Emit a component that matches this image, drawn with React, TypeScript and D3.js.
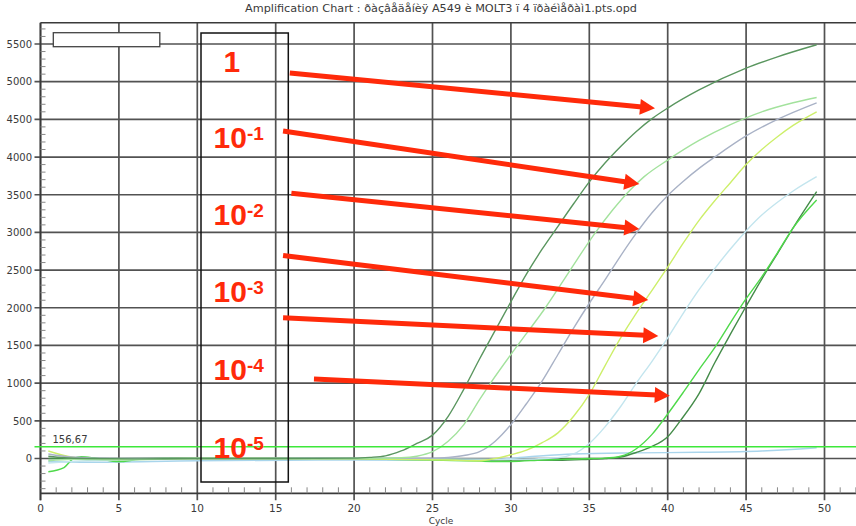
import React from 'react';
import * as d3 from 'd3';

// ---- data -------------------------------------------------------------
const titleText = 'Amplification Chart : ðàçâåäåíèÿ A549 è MOLT3 ï 4 ïðàéìåðàì1.pts.opd';
const xAxisTitle = 'Cycle';
const xTickValues = [0, 5, 10, 15, 20, 25, 30, 35, 40, 45, 50];
const yTickValues = [0, 500, 1000, 1500, 2000, 2500, 3000, 3500, 4000, 4500, 5000, 5500];
const thresholdValue = 156.67;
const thresholdLabel = '156,67';

// amplification traces, [cycle, RFU]
const traceUndiluted: [number, number][] = [
  [0.5, 30], [1.5, 10], [3, 0], [6, -5], [10, 0], [15, 0], [20, 5], [21, 15], [22, 35], [23, 100],
  [24, 200], [25, 310], [26, 560], [27, 920], [28, 1320], [29, 1700], [30, 2080], [31, 2450],
  [32, 2780], [33, 3080], [34, 3380], [35, 3670], [36, 3920], [37, 4140], [38, 4340], [39, 4510],
  [40, 4650], [42, 4890], [45, 5180], [47, 5330], [49.5, 5490],
];
const traceLightGreen: [number, number][] = [
  [0.5, -30], [2, -10], [5, -20], [10, 0], [15, -5], [20, 0], [23, 10], [24, 30], [25, 90], [26, 230],
  [27, 450], [28, 780], [28.7, 1000], [30, 1380], [31, 1660], [32.2, 2000], [33, 2250], [34, 2570],
  [35.4, 3000], [36.5, 3300], [37.5, 3540], [38.5, 3740], [40, 3960], [42, 4220], [44, 4430],
  [46, 4600], [48, 4720], [49.5, 4790],
];
const traceSlate: [number, number][] = [
  [0.5, 60], [2, 20], [5, 0], [10, 0], [20, 0], [25, 5], [26, 15], [27, 40], [28, 90], [29, 230],
  [30, 450], [31, 730], [32, 1030], [33, 1380], [34, 1730], [35, 2060], [36, 2370], [37, 2690],
  [38, 2990], [39, 3260], [40, 3490], [41, 3680], [42, 3850], [43, 4000], [45, 4280], [47, 4500],
  [49.5, 4720],
];
const traceLime: [number, number][] = [
  [0.5, 100], [1.5, 40], [2.5, 5], [5, -10], [10, 0], [20, -5], [26, -20], [28, -30], [29, 0],
  [30, 50], [31, 110], [32, 210], [33, 340], [34, 560], [35, 850], [36, 1230], [37, 1600], [38, 1930],
  [39, 2230], [40, 2540], [41, 2860], [42, 3160], [43, 3420], [44, 3660], [45, 3900], [46, 4100],
  [47, 4270], [48, 4420], [49.5, 4600],
];
const traceCyan: [number, number][] = [
  [0.5, -60], [2, -40], [5, -20], [10, 0], [20, 0], [30, -10], [33, 10], [34, 60], [35, 200],
  [36, 420], [37, 690], [38, 1000], [39, 1290], [40, 1600], [41, 1930], [42, 2240], [43, 2520],
  [44, 2780], [45, 3020], [46, 3230], [47, 3400], [48, 3550], [49.5, 3740],
];
const traceGreen: [number, number][] = [
  [0.5, -175], [1.5, -120], [2.1, 0], [2.6, 25], [3.5, 5], [5, -42], [6.3, -11], [8, 0], [15, 0],
  [20, -5], [25, -20], [28, -35], [30, -40], [32, -20], [35, 0], [36, 5], [37, 30], [38, 130],
  [39, 320], [40, 590], [41, 880], [42, 1180], [43, 1470], [44, 1800], [45, 2120], [46, 2410],
  [47, 2730], [48, 3060], [49.5, 3430],
];
const traceDarkGreen: [number, number][] = [
  [0.5, 0], [5, 0], [10, 5], [20, 0], [25, -10], [30, -20], [33, -25], [35, -10], [36, 0], [37, 20],
  [38, 80], [39, 160], [40, 290], [40.8, 500], [42, 860], [43, 1270], [44, 1650], [45, 2020],
  [46, 2380], [47, 2720], [48, 3060], [49.5, 3540],
];
const traceNegative: [number, number][] = [
  [0.5, -40], [3, -50], [10, -30], [20, -20], [28, -25], [31, 20], [34, 60], [38, 75], [42, 82],
  [46, 100], [48.4, 126], [49.5, 143],
];

// dilution labels: base and exponent
const dilutionBases = ['1', '10', '10', '10', '10', '10'];
const dilutionExponents = ['', '-1', '-2', '-3', '-4', '-5'];
// arrows from each label towards its curve, [cycle, RFU] start and tip
const arrowStarts: [number, number][] = [
  [15.9, 5115], [15.47, 4346], [16.0, 3519], [15.47, 2694], [15.47, 1868], [17.44, 1055],
];
const arrowTips: [number, number][] = [
  [39.19, 4647], [38.19, 3643], [38.19, 3045], [38.76, 2103], [39.4, 1626], [40.13, 833],
];

// ---- layout -----------------------------------------------------------
const W = 856;
const H = 526;
const plotLeft = 40.5;
const plotRight = 856;
const plotTop = 22.7;
const plotBottom = 493.3;
const labelBaselines = [72, 148, 225, 302, 380, 458];

const series = [
  { pts: traceNegative, color: '#a9d5ec' },
  { pts: traceDarkGreen, color: '#458c4a' },
  { pts: traceGreen, color: '#4fd94a' },
  { pts: traceCyan, color: '#c3e5ee' },
  { pts: traceLime, color: '#cdef6a' },
  { pts: traceSlate, color: '#a9b2c6' },
  { pts: traceLightGreen, color: '#a3e29d' },
  { pts: traceUndiluted, color: '#5a965f' },
];

const RED = '#ff2a0a';
const GRID = '#525252';
const AXIS = '#3a3a3a';
const TEXT = '#3a3a3a';

export default function App() {
  const x = d3.scaleLinear().domain([0, 50]).range([plotLeft, 824.5]);
  const y = d3.scaleLinear().domain([0, 5500]).range([458.5, 44]);
  const xMax = x.invert(plotRight);
  const yMin = y.invert(plotBottom);
  const yMax = y.invert(plotTop);

  const line = d3
    .line<[number, number]>()
    .x((d) => x(d[0]))
    .y((d) => y(d[1]))
    .curve(d3.curveMonotoneX);

  const minorX = d3.range(1, Math.floor(xMax) + 1).filter((c) => c % 5 !== 0);
  const minorY = d3
    .range(Math.ceil(yMin / 100) * 100, yMax, 100)
    .filter((v) => v % 500 !== 0);

  const arrows = arrowStarts.map((s, i) => {
    const t = arrowTips[i];
    const sx = x(s[0]);
    const sy = y(s[1]);
    const tx = x(t[0]);
    const ty = y(t[1]);
    const len = Math.hypot(tx - sx, ty - sy);
    const ux = (tx - sx) / len;
    const uy = (ty - sy) / len;
    const headLen = 15;
    const headHalf = 8;
    const bx = tx - ux * headLen;
    const by = ty - uy * headLen;
    const px = -uy;
    const py = ux;
    return {
      shaft: { x1: sx, y1: sy, x2: bx + ux * 2, y2: by + uy * 2 },
      head: `${tx},${ty} ${bx + px * headHalf},${by + py * headHalf} ${bx - px * headHalf},${by - py * headHalf}`,
    };
  });

  const labelFont = '"Liberation Sans", Arial, sans-serif';
  const tickFont = '"DejaVu Sans", Verdana, sans-serif';

  return (
    <svg
      width={W}
      height={H}
      viewBox={`0 0 ${W} ${H}`}
      style={{ position: 'absolute', left: 0, top: 0, background: '#fff' }}
    >
      <rect x={0} y={0} width={W} height={H} fill="#fff" />

      {/* title */}
      <text
        x={245}
        y={12}
        fontFamily={tickFont}
        fontSize={10}
        fill={TEXT}
        textLength={392}
        lengthAdjust="spacingAndGlyphs"
      >
        {titleText}
      </text>

      {/* horizontal grid */}
      {yTickValues.map((v) => (
        <line key={`gy${v}`} x1={plotLeft - 6} x2={plotRight} y1={y(v)} y2={y(v)} stroke={GRID} strokeWidth={1.7} />
      ))}
      {/* vertical grid */}
      {xTickValues.map((c) => (
        <line key={`gx${c}`} x1={x(c)} x2={x(c)} y1={plotTop} y2={plotBottom + 7} stroke={GRID} strokeWidth={1.7} />
      ))}

      {/* frame */}
      <line x1={plotLeft} x2={plotRight} y1={plotTop} y2={plotTop} stroke={AXIS} strokeWidth={1.5} />
      <line x1={plotLeft} x2={plotLeft} y1={plotTop} y2={plotBottom + 7} stroke={AXIS} strokeWidth={1.7} />
      <line x1={plotLeft} x2={plotRight} y1={plotBottom} y2={plotBottom} stroke={AXIS} strokeWidth={1.7} />

      {/* minor ticks */}
      {minorX.map((c) => (
        <line key={`mx${c}`} x1={x(c)} x2={x(c)} y1={plotBottom} y2={plotBottom - 6} stroke="#888" strokeWidth={1} />
      ))}
      {minorY.map((v) => (
        <line key={`my${v}`} x1={plotLeft} x2={plotLeft + 5} y1={y(v)} y2={y(v)} stroke="#888" strokeWidth={1} />
      ))}

      {/* tick labels */}
      {yTickValues.map((v) => (
        <text key={`ly${v}`} x={32} y={y(v) + 3.8} textAnchor="end" fontFamily={tickFont} fontSize={10} fill={TEXT}>
          {v}
        </text>
      ))}
      {xTickValues.map((c) => (
        <text key={`lx${c}`} x={x(c)} y={511.5} textAnchor="middle" fontFamily={tickFont} fontSize={10.5} fill={TEXT}>
          {c}
        </text>
      ))}
      <text x={441} y={523.5} textAnchor="middle" fontFamily={tickFont} fontSize={9} fill={TEXT}>
        {xAxisTitle}
      </text>

      {/* legend placeholder */}
      <rect x={53.3} y={32.7} width={106.5} height={14} fill="#fff" stroke="#444" strokeWidth={1.3} />

      <defs>
        <clipPath id="plotClip">
          <rect x={plotLeft} y={plotTop} width={plotRight - plotLeft} height={plotBottom - plotTop} />
        </clipPath>
      </defs>

      {/* curves */}
      <g clipPath="url(#plotClip)">
        {series.map((s, i) => (
          <path key={`s${i}`} d={line(s.pts) || ''} fill="none" stroke={s.color} strokeWidth={1.4} />
        ))}
      </g>

      {/* threshold */}
      <line
        x1={plotLeft - 6}
        x2={plotRight}
        y1={y(thresholdValue)}
        y2={y(thresholdValue)}
        stroke="#3de83a"
        strokeWidth={1.6}
      />
      <text x={52.5} y={y(thresholdValue) - 4} fontFamily={tickFont} fontSize={10} fill={TEXT}>
        {thresholdLabel}
      </text>

      {/* dilution panel */}
      <rect x={201} y={33} width={87.3} height={449} fill="none" stroke="#111" strokeWidth={1.5} />
      {dilutionBases.map((b, i) => (
        <text
          key={`dl${i}`}
          x={dilutionExponents[i] ? 213.5 : 223.5}
          y={labelBaselines[i]}
          fontFamily={labelFont}
          fontWeight="bold"
          fontSize={30}
          fill={RED}
        >
          {b}
          {dilutionExponents[i] && (
            <tspan fontSize={19} dy={-8.5}>
              {dilutionExponents[i]}
            </tspan>
          )}
        </text>
      ))}

      {/* arrows */}
      {arrows.map((a, i) => (
        <g key={`ar${i}`}>
          <line {...a.shaft} stroke={RED} strokeWidth={5} />
          <polygon points={a.head} fill={RED} />
        </g>
      ))}
    </svg>
  );
}
